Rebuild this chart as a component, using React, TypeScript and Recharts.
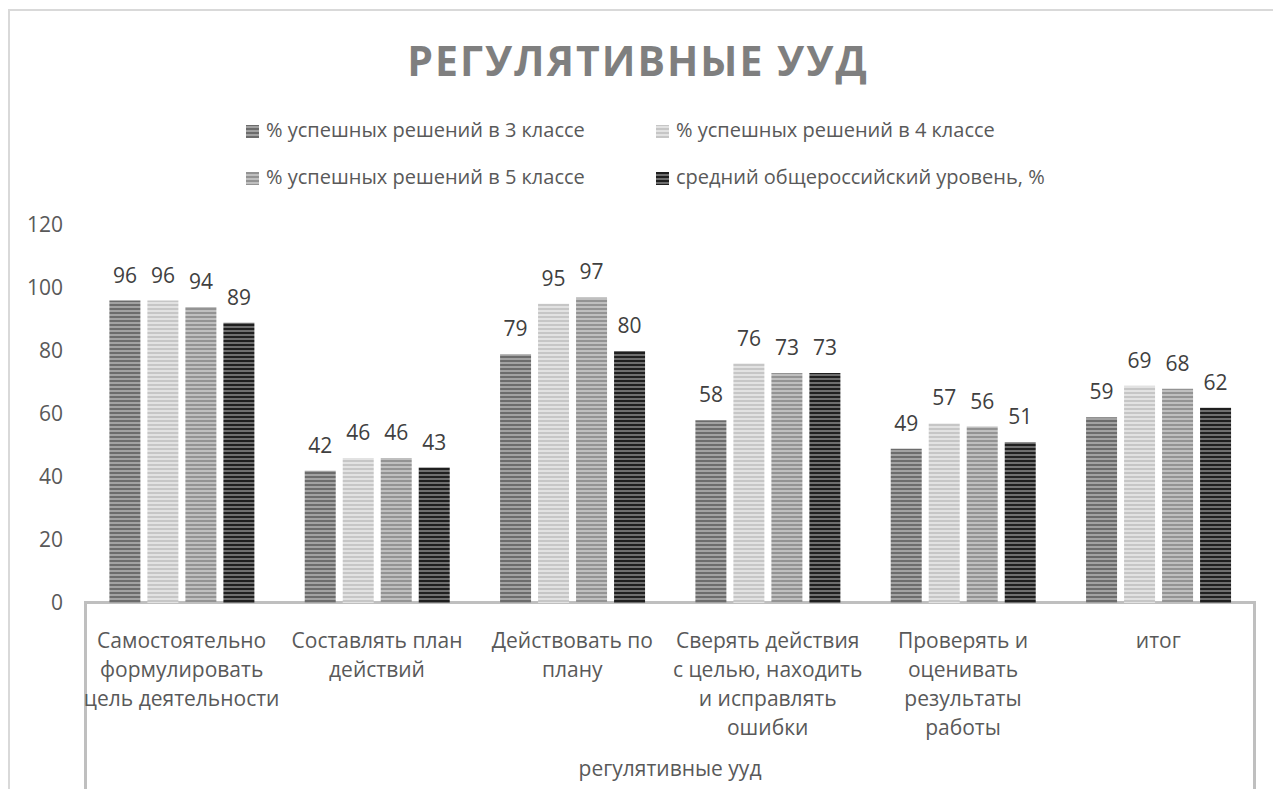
import React from 'react';
import { BarChart, Bar, XAxis, YAxis, LabelList } from 'recharts';

// categories (line breaks as in the original axis)
const categories = [
  'Самостоятельно\nформулировать\nцель деятельности',
  'Составлять план\nдействий',
  'Действовать по\nплану',
  'Сверять действия\nс целью, находить\nи исправлять\nошибки',
  'Проверять и\nоценивать\nрезультаты\nработы',
  'итог',
];

const seriesNames = [
  '% успешных решений в 3 классе',
  '% успешных решений в 4 классе',
  '% успешных решений в 5 классе',
  'средний общероссийский уровень, %',
];

const grade3 = [96, 42, 79, 58, 49, 59];
const grade4 = [96, 46, 95, 76, 57, 69];
const grade5 = [94, 46, 97, 73, 56, 68];
const russiaAvg = [89, 43, 80, 73, 51, 62];

const yTicks = [0, 20, 40, 60, 80, 100, 120];

// stripe colours per series: [dark, light]
const stripes = [
  ['#6c6c6c', '#a2a2a2'],
  ['#c6c6c6', '#e2e2e2'],
  ['#939393', '#bfbfbf'],
  ['#1f1f1f', '#6e6e6e'],
];

const keys = ['g3', 'g4', 'g5', 'avg'];

const data = categories.map((name, i) => ({
  name,
  g3: grade3[i],
  g4: grade4[i],
  g5: grade5[i],
  avg: russiaAvg[i],
}));

const FONT = '"Open Sans", sans-serif';
const TEXT = '#595959';

const StripeDefs = () => (
  <defs>
    {stripes.map(([dark, light], i) => (
      <pattern key={i} id={`stripe${i}`} patternUnits="userSpaceOnUse" width="4" height="4">
        <rect width="4" height="4" fill={light} />
        <rect width="4" height="2" fill={dark} />
      </pattern>
    ))}
  </defs>
);

const CategoryTick = (props: any) => {
  const { x, y, payload } = props;
  const lines = String(payload.value).split('\n');
  return (
    <text x={x} y={y + 37} textAnchor="middle" fill={TEXT} fontSize={21} fontFamily={FONT}>
      {lines.map((line, i) => (
        <tspan key={i} x={x} dy={i === 0 ? 0 : 29}>
          {line}
        </tspan>
      ))}
    </text>
  );
};

export default function App() {
  return (
    <div
      style={{
        position: 'fixed',
        left: 0,
        top: 0,
        width: 1273,
        height: 789,
        overflow: 'hidden',
        background: '#fff',
        fontFamily: FONT,
      }}
    >
      {/* chart frame */}
      <div
        style={{
          position: 'absolute',
          left: 8,
          top: 9,
          width: 1400,
          height: 900,
          border: '2px solid #d9d9d9',
        }}
      />
      {/* category axis box */}
      <div
        style={{
          position: 'absolute',
          left: 84,
          top: 601,
          width: 1166,
          height: 400,
          border: '3px solid #bfbfbf',
        }}
      />
      <div style={{ position: 'absolute', left: 0, top: 0 }}>
        <BarChart
          width={1273}
          height={789}
          data={data}
          margin={{ top: 225, right: 17, bottom: 0, left: 24 }}
          barGap={7}
          barCategoryGap="13%"
        >
          <StripeDefs />
          <YAxis
            width={60}
            domain={[0, 120]}
            ticks={yTicks}
            axisLine={false}
            tickLine={false}
            tickSize={0}
            tickMargin={21}
            tick={{ fill: TEXT, fontSize: 21, fontFamily: FONT }}
          />
          <XAxis
            dataKey="name"
            height={186}
            axisLine={false}
            tickLine={false}
            interval={0}
            tick={<CategoryTick />}
            label={{
              value: 'регулятивные ууд',
              position: 'insideBottom',
              offset: 13,
              fill: TEXT,
              fontSize: 21,
              fontFamily: FONT,
            }}
          />
          {keys.map((k, i) => (
            <Bar
              key={k}
              dataKey={k}
              name={seriesNames[i]}
              fill={`url(#stripe${i})`}
              isAnimationActive={false}
            >
              <LabelList
                dataKey={k}
                position="top"
                offset={18}
                fill="#404040"
                fontSize={21}
                fontFamily={FONT}
              />
            </Bar>
          ))}
        </BarChart>
      </div>
      {/* title and legend */}
      <svg
        width={1273}
        height={200}
        style={{ position: 'absolute', left: 0, top: 0, pointerEvents: 'none' }}
      >
        <text
          x={638}
          y={76}
          textAnchor="middle"
          fill="#7f7f7f"
          fontSize={41}
          fontWeight="bold"
          fontFamily={FONT}
          letterSpacing={2}
        >
          РЕГУЛЯТИВНЫЕ УУД
        </text>
        {seriesNames.map((name, i) => {
          const col = i % 2;
          const row = Math.floor(i / 2);
          const sx = col === 0 ? 246 : 656;
          const by = row === 0 ? 137 : 184;
          return (
            <g key={name}>
              <rect x={sx} y={by - 12} width={13} height={13} fill={`url(#stripe${i})`} />
              <text x={sx + 20} y={by} fill={TEXT} fontSize={20} fontFamily={FONT}>
                {name}
              </text>
            </g>
          );
        })}
      </svg>
    </div>
  );
}
